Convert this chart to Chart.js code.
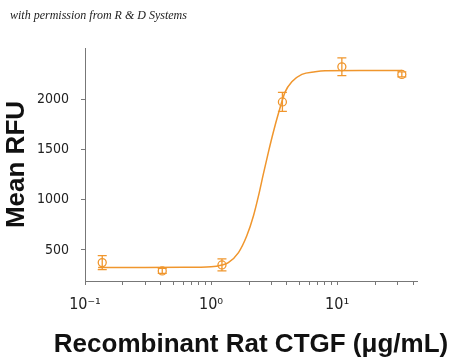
<!DOCTYPE html>
<html>
<head>
<meta charset="utf-8">
<script src="https://cdn.jsdelivr.net/npm/chart.js@4"></script>
<style>
  body { margin: 0; background: #fff; }
  #wrap { position: relative; width: 450px; height: 361px; }
  #note {
    position: absolute; left: 10px; top: 8px;
    font: italic 12px 'Liberation Serif', 'DejaVu Serif', serif;
    color: #222;
  }
</style>
</head>
<body>
<div id="wrap">
  <canvas id="myChart" width="450" height="361"></canvas>
  <div id="note">with permission from R &amp; D Systems</div>
</div>
<script>
// measured points (ug/mL vs mean RFU)
const concentration = [0.137, 0.41, 1.22, 3.68, 10.9, 32.6];
const meanRfu = [373, 290, 350, 1973, 2323, 2247];
const rfuError = [70, 25, 60, 95, 88, 25];

// fitted curve
const fitConc = [0.127, 0.3, 0.6, 1.0, 1.22, 1.37, 1.65, 1.92, 2.17, 2.38, 2.6, 2.85, 3.12, 3.42, 3.87, 4.37, 5.25, 6.69, 8.03, 15, 32.6];
const fitRfu = [325, 325, 326, 332, 350, 373, 473, 640, 840, 1040, 1257, 1473, 1673, 1857, 2073, 2173, 2247, 2273, 2283, 2285, 2285];

const yTicks = [500, 1000, 1500, 2000];
const xTitle = 'Recombinant Rat CTGF (\u03BCg/mL)';

const orange = '#F0962D';
const axisGray = '#777';
const narrow = "'Liberation Sans Narrow', 'DejaVu Sans Condensed', sans-serif";
const boldFont = "bold 26px 'Liberation Sans', Arial, sans-serif";

const sup = { '-': '\u207B', '0': '\u2070', '1': '\u00B9', '2': '\u00B2' };

const errorBars = {
    id: 'errorBars',
    afterDatasetsDraw(chart) {
        const ctx = chart.ctx;
        const y = chart.scales.y;
        const meta = chart.getDatasetMeta(1);
        ctx.save();
        ctx.strokeStyle = orange;
        ctx.lineWidth = 1.3;
        meta.data.forEach((pt, i) => {
            const top = y.getPixelForValue(meanRfu[i] + rfuError[i]);
            const bot = y.getPixelForValue(meanRfu[i] - rfuError[i]);
            ctx.beginPath();
            ctx.moveTo(pt.x, top);
            ctx.lineTo(pt.x, bot);
            ctx.moveTo(pt.x - 4.5, top);
            ctx.lineTo(pt.x + 4.5, top);
            ctx.moveTo(pt.x - 4.5, bot);
            ctx.lineTo(pt.x + 4.5, bot);
            ctx.stroke();
        });
        ctx.restore();
    }
};

// x title drawn by hand so it isn't squeezed to the plot width
const xTitlePlugin = {
    id: 'xTitle',
    afterDraw(chart) {
        const ctx = chart.ctx;
        const area = chart.chartArea;
        ctx.save();
        ctx.font = boldFont;
        ctx.fillStyle = '#111';
        ctx.textAlign = 'center';
        ctx.textBaseline = 'alphabetic';
        ctx.fillText(xTitle, (area.left + area.right) / 2, 352);
        ctx.restore();
    }
};

const ctx = document.getElementById('myChart').getContext('2d');
const myChart = new Chart(ctx, {
    type: 'line',
    data: {
        datasets: [
            {
                label: 'fit',
                data: fitConc.map((c, i) => ({ x: c, y: fitRfu[i] })),
                borderColor: orange,
                borderWidth: 1.5,
                pointRadius: 0,
                cubicInterpolationMode: 'monotone',
                fill: false
            },
            {
                label: 'Mean RFU',
                data: concentration.map((c, i) => ({ x: c, y: meanRfu[i] })),
                showLine: false,
                pointStyle: 'circle',
                pointRadius: 4,
                pointBorderWidth: 1.3,
                pointBorderColor: orange,
                pointBackgroundColor: 'rgba(255,255,255,0)'
            }
        ]
    },
    options: {
        responsive: false,
        animation: false,
        devicePixelRatio: 1,
        layout: {
            padding: { left: 0, right: 33, top: 48, bottom: 0 }
        },
        scales: {
            x: {
                type: 'logarithmic',
                position: 'bottom',
                min: 0.1,
                max: 43,
                afterBuildTicks: (scale) => {
                    scale.ticks = scale.ticks.filter(t => {
                        const m = t.value / Math.pow(10, Math.floor(Math.log10(t.value) + 1e-9));
                        return Math.abs(m - Math.round(m)) < 1e-6 && t.value <= 40.0001;
                    });
                },
                afterFit: (scale) => { scale.height = 80; },
                grid: { drawOnChartArea: false, drawTicks: true, tickLength: 4, color: axisGray },
                border: { color: axisGray, width: 1 },
                ticks: {
                    autoSkip: false,
                    maxRotation: 0,
                    padding: 10,
                    color: '#222',
                    font: { family: narrow, size: 16 },
                    callback: (value) => {
                        const p = Math.log10(value);
                        if (Math.abs(p - Math.round(p)) > 1e-6) return '';
                        return '10' + String(Math.round(p)).split('').map(ch => sup[ch]).join('');
                    }
                }
            },
            y: {
                min: 190,
                max: 2510,
                afterBuildTicks: (scale) => {
                    scale.ticks = yTicks.map(v => ({ value: v }));
                },
                afterFit: (scale) => { scale.width = 85; },
                grid: { drawOnChartArea: false, drawTicks: true, tickLength: 4, color: axisGray },
                border: { color: axisGray, width: 1 },
                ticks: {
                    padding: 12,
                    color: '#222',
                    font: { family: narrow, size: 14 },
                    callback: (value) => String(value)
                },
                title: {
                    display: true,
                    text: 'Mean RFU',
                    color: '#111',
                    font: { family: "'Liberation Sans', Arial, sans-serif", size: 26, weight: 'bold' },
                    padding: { top: 1, bottom: 0 }
                }
            }
        },
        plugins: {
            legend: { display: false },
            tooltip: { enabled: false }
        }
    },
    plugins: [errorBars, xTitlePlugin]
});
</script>
</body>
</html>
